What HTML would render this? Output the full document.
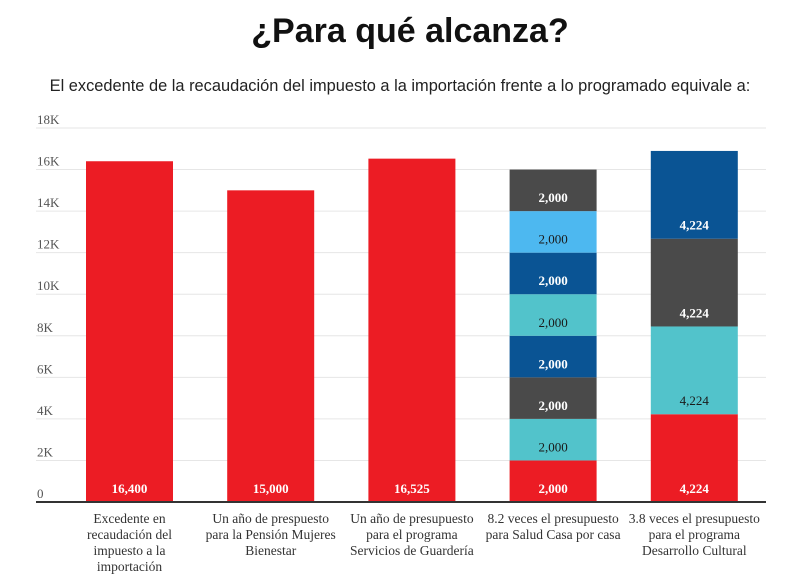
<!DOCTYPE html>
<html><head><meta charset="utf-8"><style>
body{margin:0;background:#fff;width:807px;height:582px;overflow:hidden}
</style></head><body>
<svg id="c" width="807" height="582" xmlns="http://www.w3.org/2000/svg">
<text x="410" y="42" text-anchor="middle" font-family="Liberation Sans, sans-serif" font-weight="bold" font-size="34" fill="#111">¿Para qué alcanza?</text>
<text x="400" y="91" text-anchor="middle" font-family="Liberation Sans, sans-serif" font-size="16.4" fill="#222">El excedente de la recaudación del impuesto a la importación frente a lo programado equivale a:</text>
<g id="grid"></g><g id="bars"></g><g id="xl"></g>
</svg>
<script>
const ticks=[0,2000,4000,6000,8000,10000,12000,14000,16000,18000];
const tickLabels=["0","2K","4K","6K","8K","10K","12K","14K","16K","18K"];
const categories=[["Excedente en","recaudación del","impuesto a la","importación"],["Un año de prespuesto","para la Pensión Mujeres","Bienestar"],["Un año de presupuesto","para el programa","Servicios de Guardería"],["8.2 veces el presupuesto","para Salud Casa por casa"],["3.8 veces el presupuesto","para el programa","Desarrollo Cultural"]];
const bar1=[16400],bar2=[15000],bar3=[16525];
const bar4=[2000,2000,2000,2000,2000,2000,2000,2000];
const bar5=[4224,4224,4224,4224];
const stacks=[bar1,bar2,bar3,bar4,bar5];
const colors=[["#ec1c24"],["#ec1c24"],["#ec1c24"],["#ec1c24","#52c3cb","#4a4a4a","#0a5494","#52c3cb","#0a5494","#4db8f0","#4a4a4a"],["#ec1c24","#52c3cb","#4a4a4a","#0a5494"]];
const NS="http://www.w3.org/2000/svg";
const y=v=>502-v*(374/18000);
const x=i=>86+i*141.2;
const BW=87;
function mk(t,a,p){const e=document.createElementNS(NS,t);for(const k in a)e.setAttribute(k,a[k]);p.appendChild(e);return e;}
const g=document.getElementById('grid');
ticks.forEach((t,i)=>{
 if(i>0){const l=mk('line',{x1:36,x2:766,y1:y(t),y2:y(t),stroke:'#e6e6e6','stroke-width':1},g);
 
 }
 const tx=mk('text',{x:37,y:y(t)-4,'font-family':'Liberation Serif, serif','font-size':13,fill:'#555'},g);
 tx.textContent=tickLabels[i];
 
 
});
const b=document.getElementById('bars');
stacks.forEach((s,i)=>{
 let acc=0;
 s.forEach((v,j)=>{
  const r=mk('rect',{x:x(i),y:y(acc+v),width:BW,height:y(acc)-y(acc+v),fill:colors[i][j]},b);
  
  
  const c=colors[i][j];const dark=(c=="#52c3cb"||c=="#4db8f0");
  const t=mk('text',{x:x(i)+BW/2,y:y(acc)-9,'text-anchor':'middle','font-family':'Liberation Serif, serif','font-weight':dark?'normal':'bold','font-size':13,fill:dark?'#1a1a1a':'#fff'},b);
  t.textContent=v.toLocaleString('en-US');
  
  
  acc+=v;
 });
});
const ax=mk('line',{x1:36,x2:766,y1:502,y2:502,stroke:'#333','stroke-width':2},b);


const xl=document.getElementById('xl');
categories.forEach((lines,i)=>{
 lines.forEach((ln,k)=>{
  const t=mk('text',{x:x(i)+BW/2,y:523+k*16,'text-anchor':'middle','font-family':'Liberation Serif, serif','font-size':13.5,fill:'#333'},xl);
  t.textContent=ln;
  
  
 });
});
</script>
</body></html>
